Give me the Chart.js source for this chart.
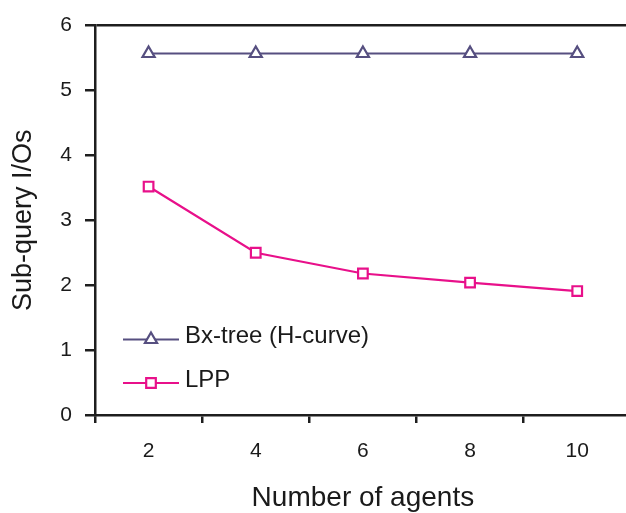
<!DOCTYPE html>
<html>
<head>
<meta charset="utf-8">
<script src="https://cdn.jsdelivr.net/npm/chart.js@4.4.1/dist/chart.umd.min.js"></script>
<style>
  html, body { margin: 0; padding: 0; background: #fff; overflow: hidden; }
  #wrap { width: 640px; height: 513px; }
</style>
</head>
<body>
<div id="wrap"><canvas id="chart" width="640" height="513"></canvas></div>
<script>
// agent counts on the x axis
const agents = ['2', '4', '6', '8', '10']
// sub-query I/Os per method
const bxTree = [5.57, 5.57, 5.57, 5.57, 5.57]
const lpp = [3.52, 2.50, 2.18, 2.04, 1.91]
const yTicks = [0, 1, 2, 3, 4, 5, 6]

const axisColor = '#1e1e1e'
const textColor = '#1a1a1a'
const fontFamily = "'Liberation Sans', Arial, sans-serif"

// legend sits inside the plot, lower left
const insideLegend = {
    id: 'insideLegend',
    afterDraw(chart) {
        const ctx = chart.ctx
        const rows = [339.5, 383]
        ctx.save()
        chart.data.datasets.forEach((ds, i) => {
            const y = rows[i]
            ctx.strokeStyle = ds.borderColor
            ctx.lineWidth = 2.2
            ctx.beginPath()
            ctx.moveTo(123, y)
            ctx.lineTo(179, y)
            ctx.stroke()
            ctx.fillStyle = '#fff'
            Chart.helpers.drawPoint(ctx, {
                pointStyle: ds.pointStyle,
                radius: ds.pointRadius,
                borderWidth: ds.pointBorderWidth,
                rotation: 0
            }, 151, y)
            ctx.fillStyle = textColor
            ctx.font = `24px ${fontFamily}`
            ctx.textAlign = 'left'
            ctx.textBaseline = 'middle'
            ctx.fillText(ds.label, 185, y - 3)
        })
        ctx.restore()
    }
}

new Chart(document.getElementById('chart'), {
    type: 'line',
    data: {
        labels: agents,
        datasets: [
            {
                label: 'Bx-tree (H-curve)',
                data: bxTree,
                borderColor: '#564f80',
                backgroundColor: '#fff',
                borderWidth: 2.2,
                pointStyle: 'triangle',
                pointRadius: 7,
                pointBorderWidth: 2.2,
                tension: 0
            },
            {
                label: 'LPP',
                data: lpp,
                borderColor: '#e8108a',
                backgroundColor: '#fff',
                borderWidth: 2.2,
                pointStyle: 'rect',
                pointRadius: 6.8,
                pointBorderWidth: 2.2,
                tension: 0
            }
        ]
    },
    options: {
        responsive: false,
        animation: false,
        layout: { padding: { top: 25, right: 8, left: 0, bottom: 0 } },
        plugins: {
            legend: { display: false },
            tooltip: { enabled: false }
        },
        scales: {
            x: {
                type: 'category',
                offset: true,
                afterFit(scale) { scale.height = 98 },
                border: { color: axisColor, width: 2.5 },
                grid: {
                    offset: true,
                    drawOnChartArea: false,
                    tickLength: 8,
                    color: axisColor,
                    lineWidth: 2.5
                },
                ticks: {
                    padding: 16,
                    color: textColor,
                    font: { family: fontFamily, size: 21 }
                },
                title: {
                    display: true,
                    text: 'Number of agents',
                    color: textColor,
                    padding: { top: 0, bottom: -2 },
                    font: { family: fontFamily, size: 28 }
                }
            },
            y: {
                min: 0,
                max: 6,
                afterFit(scale) { scale.width = 95 },
                afterBuildTicks(scale) {
                    scale.ticks = yTicks.map(v => ({ value: v }))
                },
                border: { color: axisColor, width: 2.5 },
                grid: {
                    tickLength: 10,
                    lineWidth: 2.5,
                    tickColor: axisColor,
                    color: ctx => (ctx.tick && ctx.tick.value === 6) ? axisColor : 'rgba(0,0,0,0)'
                },
                ticks: {
                    padding: 13,
                    color: textColor,
                    font: { family: fontFamily, size: 21 }
                },
                title: {
                    display: true,
                    text: 'Sub-query I/Os',
                    color: textColor,
                    padding: { top: 7, bottom: 0 },
                    font: { family: fontFamily, size: 27 }
                }
            }
        }
    },
    plugins: [insideLegend]
})
</script>
</body>
</html>
